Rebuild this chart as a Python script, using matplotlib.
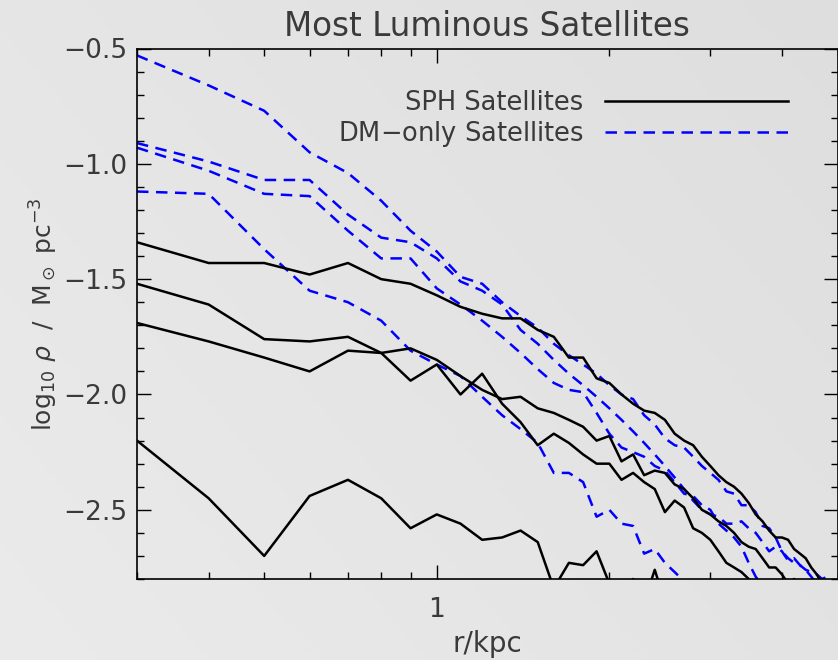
import numpy as np
import matplotlib
matplotlib.use("Agg")
import matplotlib.pyplot as plt
from matplotlib.ticker import FixedLocator, LogLocator, NullFormatter, MultipleLocator

# radius grid (kpc)
r_kpc = [0.3, 0.4, 0.5, 0.6, 0.7, 0.8, 0.9, 1.0, 1.1, 1.2,
         1.3, 1.4, 1.5, 1.6, 1.7, 1.8, 1.9, 2.0, 2.1, 2.2,
         2.3, 2.4, 2.5, 2.6, 2.7, 2.8, 2.9, 3.0, 3.1, 3.2,
         3.3, 3.4, 3.5, 3.6, 3.7, 3.8, 3.9, 4.0, 4.1, 4.2,
         4.3, 4.4, 4.5, 4.6, 4.7, 4.8, 4.9, 5.0]

# SPH satellites, log10 rho
sph1 = [-1.34, -1.43, -1.43, -1.48, -1.43, -1.50, -1.52, -1.57, -1.62, -1.65,
        -1.67, -1.67, -1.72, -1.75, -1.84, -1.84, -1.93, -1.95, -2.00, -2.04,
        -2.07, -2.08, -2.11, -2.17, -2.20, -2.22, -2.27, -2.31, -2.35, -2.38,
        -2.40, -2.43, -2.47, -2.52, -2.55, -2.59, -2.62, -2.62, -2.63, -2.67,
        -2.69, -2.71, -2.75, -2.78, -2.82, -2.86, -2.88, -2.92]
sph2 = [-1.52, -1.61, -1.76, -1.77, -1.75, -1.82, -1.94, -1.87, -2.00, -1.91,
        -2.04, -2.12, -2.22, -2.17, -2.21, -2.26, -2.30, -2.30, -2.37, -2.34,
        -2.38, -2.41, -2.51, -2.46, -2.49, -2.58, -2.60, -2.63, -2.68, -2.73,
        -2.75, -2.77, -2.80, -2.83, -2.85, -2.86, -2.88, -2.89, -2.90, -2.92,
        -2.93, -2.95, -2.96, -2.97, -2.99, -3.00, -3.02, -3.03]
sph3 = [-1.69, -1.77, -1.84, -1.90, -1.81, -1.82, -1.80, -1.85, -1.92, -1.98,
        -2.02, -2.01, -2.06, -2.08, -2.11, -2.14, -2.20, -2.18, -2.29, -2.26,
        -2.35, -2.33, -2.34, -2.39, -2.41, -2.45, -2.50, -2.52, -2.55, -2.57,
        -2.60, -2.64, -2.66, -2.67, -2.71, -2.75, -2.75, -2.78, -2.82, -2.80,
        -2.85, -2.88, -2.90, -2.92, -2.94, -2.96, -2.98, -3.00]
sph4 = [-2.20, -2.45, -2.70, -2.44, -2.37, -2.45, -2.58, -2.52, -2.56, -2.63,
        -2.62, -2.59, -2.64, -2.84, -2.73, -2.74, -2.68, -2.82, -2.90, -2.80,
        -2.90, -2.76, -2.90, -2.95, -2.97, -3.00, -3.02, -3.04, -3.06, -3.08,
        -3.10, -3.12, -3.14, -3.16, -3.18, -3.20, -3.22, -3.24, -3.26, -3.28,
        -3.30, -3.32, -3.34, -3.36, -3.38, -3.40, -3.42, -3.44]

# DM-only satellites, log10 rho
dm1 = [-0.53, -0.66, -0.77, -0.95, -1.04, -1.16, -1.29, -1.38, -1.49, -1.52,
       -1.60, -1.66, -1.71, -1.78, -1.83, -1.87, -1.91, -1.96, -2.00, -2.02,
       -2.09, -2.13, -2.19, -2.22, -2.23, -2.27, -2.31, -2.34, -2.37, -2.42,
       -2.43, -2.48, -2.48, -2.51, -2.57, -2.58, -2.62, -2.68, -2.71, -2.73,
       -2.74, -2.76, -2.77, -2.78, -2.80, -2.79, -2.81, -2.84]
dm2 = [-0.91, -0.99, -1.07, -1.07, -1.22, -1.32, -1.34, -1.41, -1.51, -1.55,
       -1.61, -1.72, -1.78, -1.85, -1.91, -1.96, -2.01, -2.06, -2.11, -2.16,
       -2.21, -2.26, -2.31, -2.36, -2.41, -2.46, -2.50, -2.52, -2.53, -2.56,
       -2.56, -2.55, -2.58, -2.60, -2.64, -2.68, -2.66, -2.68, -2.72, -2.71,
       -2.74, -2.76, -2.79, -2.82, -2.80, -2.83, -2.86, -2.88]
dm3 = [-0.93, -1.03, -1.13, -1.14, -1.29, -1.41, -1.41, -1.54, -1.61, -1.68,
       -1.75, -1.82, -1.89, -1.95, -1.98, -1.99, -2.08, -2.17, -2.23, -2.25,
       -2.27, -2.31, -2.33, -2.38, -2.43, -2.44, -2.48, -2.50, -2.56, -2.59,
       -2.62, -2.66, -2.73, -2.79, -2.83, -2.86, -2.88, -2.90, -2.92, -2.94,
       -2.96, -2.98, -3.00, -3.02, -3.04, -3.06, -3.08, -3.10]
dm4 = [-1.12, -1.13, -1.37, -1.55, -1.60, -1.68, -1.81, -1.87, -1.92, -2.01,
       -2.09, -2.15, -2.21, -2.34, -2.34, -2.38, -2.53, -2.50, -2.56, -2.57,
       -2.69, -2.67, -2.73, -2.77, -2.81, -2.88, -2.92, -2.96, -3.00, -3.04,
       -3.08, -3.12, -3.16, -3.20, -3.24, -3.28, -3.32, -3.36, -3.40, -3.44,
       -3.48, -3.52, -3.56, -3.60, -3.64, -3.68, -3.72, -3.76]

sph_runs = [sph1, sph2, sph3, sph4]
dm_runs = [dm1, dm2, dm3, dm4]

txt = '#3a3a3a'
fig = plt.figure(figsize=(8.38, 6.60), dpi=100)

# grey gradient backdrop
bg = fig.add_axes([0, 0, 1, 1], zorder=-10)
gx, gy = np.meshgrid(np.linspace(0, 1, 200), np.linspace(0, 1, 200))
shade = 0.925 - 0.05 * (0.6 * gx + 0.4 * (1 - gy))
bg.imshow(np.dstack([shade, shade - 0.004, shade - 0.004]), extent=[0, 1, 0, 1],
          aspect='auto', origin='upper')
bg.axis('off')

ax = fig.add_axes([137 / 838, 1 - 579 / 660, 700.5 / 838, (579 - 48.5) / 660])
ax.patch.set_alpha(0)

dash = (0, (4.6, 3.0))
for i, run in enumerate(dm_runs):
    ax.plot(r_kpc, run, color='#0000ff', lw=1.8, ls=dash,
            label='DM$-$only Satellites' if i == 0 else None)
for i, run in enumerate(sph_runs):
    ax.plot(r_kpc, run, color='black', lw=1.8,
            label='SPH Satellites' if i == 0 else None)

ax.set_xscale('log')
ax.set_xlim(0.3, 5.0)
ax.set_ylim(-2.8, -0.5)

ax.xaxis.set_major_locator(FixedLocator([1.0]))
ax.xaxis.set_major_formatter(plt.FixedFormatter(['1']))
ax.xaxis.set_minor_locator(LogLocator(base=10, subs=np.arange(2, 10)))
ax.xaxis.set_minor_formatter(NullFormatter())
ax.yaxis.set_major_locator(MultipleLocator(0.5))
ax.yaxis.set_minor_locator(MultipleLocator(0.1))
ax.yaxis.set_major_formatter(plt.FuncFormatter(lambda v, p: '\u2212%.1f' % abs(v)))

ax.tick_params(which='both', direction='in', top=True, right=True,
               colors='black', labelcolor=txt, labelsize=19, width=1)
ax.tick_params(which='major', length=10, pad=7)
ax.tick_params(which='minor', length=5)
ax.tick_params(axis='x', which='major', pad=13)
for s in ax.spines.values():
    s.set_linewidth(1.2)

ax.set_xlabel('r/kpc', fontsize=20, color=txt, labelpad=5)
ax.set_ylabel(r'log$_{10}$ $\rho$  /  M$_\odot$ pc$^{-3}$', fontsize=18, color=txt, labelpad=2)
ax.set_title('Most Luminous Satellites', fontsize=23.5, color=txt, pad=9)

h, l = ax.get_legend_handles_labels()
leg = ax.legend(h[::-1], l[::-1], loc='upper right', bbox_to_anchor=(0.962, 0.965),
                frameon=False, markerfirst=False, fontsize=18.5, handlelength=7.1,
                handletextpad=0.85, labelspacing=0.12)
for t in leg.get_texts():
    t.set_color(txt)

fig.savefig('out.png', dpi=100)
